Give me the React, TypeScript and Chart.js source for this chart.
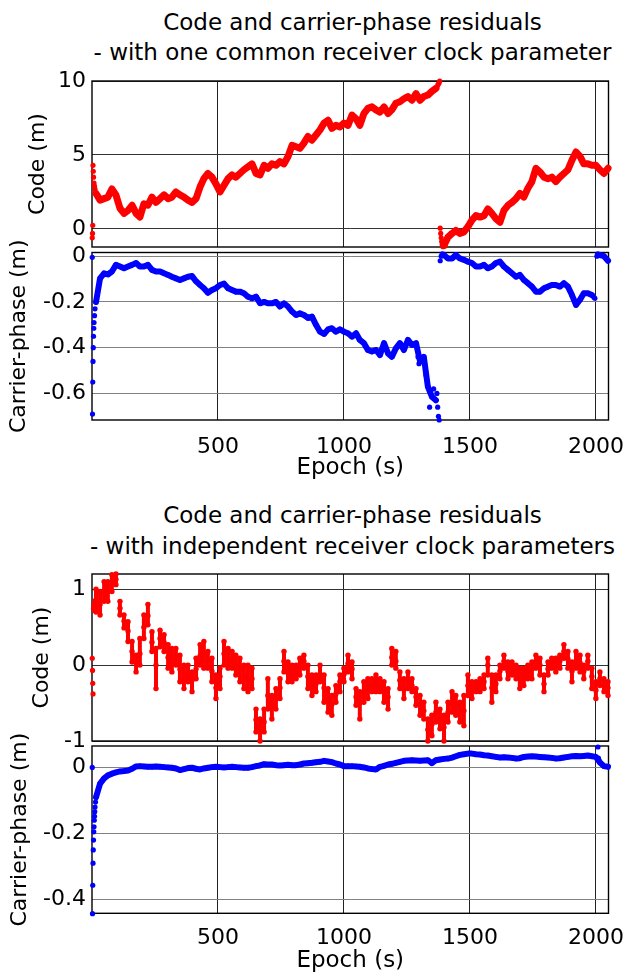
import { useEffect, useRef } from "react";
import { Chart, registerables } from "chart.js";

Chart.register(...registerables);

const FONT = "'DejaVu Sans', 'Liberation Sans', sans-serif";
const RED = "#ff0000";
const BLUE = "#0000ff";

// Epochs (s) at which the residual tracks are sampled
const EPOCH_GRID = [
  16, 32, 48, 63, 79, 95, 111, 127, 143, 159,
  175, 190, 206, 222, 238, 254, 270, 286, 302, 317,
  333, 349, 365, 381, 397, 413, 429, 444, 460, 476,
  492, 508, 524, 540, 556, 571, 587, 603, 619, 635,
  651, 667, 683, 698, 714, 730, 746, 762, 778, 794,
  810, 825, 841, 857, 873, 889, 905, 921, 937, 952,
  968, 984, 1000, 1016, 1032, 1048, 1063, 1079, 1095, 1111,
  1127, 1143, 1159, 1175, 1190, 1206, 1222, 1238, 1254, 1270,
  1286, 1302, 1317, 1333, 1349, 1365, 1381, 1397, 1413, 1429,
  1444, 1460, 1476, 1492, 1508, 1524, 1540, 1556, 1571, 1587,
  1603, 1619, 1635, 1651, 1667, 1683, 1698, 1714, 1730, 1746,
  1762, 1778, 1794, 1810, 1825, 1841, 1857, 1873, 1889, 1905,
  1921, 1937, 1952, 1968, 1984, 2000, 2016, 2032, 2048,
];

// --- One common receiver clock parameter ---
// Code residuals (m)
const codeCommon = [
  2.4, 1.95, 2.05, 2.15, 2.7, 2.3, 1.4, 1.05, 1.25, 1.6,
  1.05, 0.8, 1.7, 1.6, 2.15, 1.8, 2.05, 2.3, 2.05, 2.15,
  2.5, 2.3, 2.15, 1.95, 1.8, 2.05, 2.85, 3.4, 3.75, 3.5,
  3.05, 2.5, 2.95, 3.4, 3.65, 3.5, 3.75, 4.0, 4.2, 4.4,
  3.75, 3.65, 4.3, 4.1, 4.4, 4.3, 4.55, 4.4, 4.9, 5.65,
  5.55, 5.45, 5.8, 6.25, 6.0, 6.35, 6.7, 7.15, 7.35, 6.8,
  7.0, 6.9, 7.15, 7.0, 7.7, 7.45, 7.0, 7.8, 8.15, 8.25,
  8.05, 7.9, 8.25, 7.8, 8.05, 8.5, 8.6, 8.8, 8.95, 8.7,
  9.15, 8.7, 8.95, 9.05, 9.3, 9.5, null, -1.1, -0.55, -0.3,
  -0.1, -0.3, -0.2, 0.15, 0.6, 0.9, 0.8, 0.9, 1.35, 1.05,
  0.7, 0.45, 1.25, 1.6, 1.8, 2.05, 2.4, 2.15, 2.75, 3.2,
  4.1, 3.85, 3.5, 3.4, 3.5, 3.2, 3.5, 3.75, 4.0, 4.65,
  5.2, 4.9, 4.4, 4.4, 4.3, 4.3, 4.0, 3.75, 4.1,
];
const codeCommonEdgeEpochs = [1, 2, 3, 4, 5, 6, 8, 10, 12, 1369, 1373, 1377, 1380, 1382, 1384, 1386, 1388, 1390, 1393, 1401, 1405];
const codeCommonEdgeValues = [-0.6, -0.3, 0.25, 4.3, 3.9, 3.5, 3.1, 2.9, 2.7, 9.6, 9.75, 9.85, 10.0, 0.05, -0.3, -0.6, -0.85, -1.05, -1.2, -1.15, -0.85];

// Carrier-phase residuals (m)
const phaseCommon = [
  -0.2, -0.097, -0.075, -0.08, -0.067, -0.038, -0.045, -0.053, -0.045, -0.038,
  -0.03, -0.045, -0.045, -0.038, -0.06, -0.067, -0.067, -0.075, -0.082, -0.09,
  -0.097, -0.104, -0.097, -0.09, -0.087, -0.11, -0.126, -0.14, -0.16, -0.148,
  -0.14, -0.126, -0.12, -0.14, -0.148, -0.155, -0.155, -0.162, -0.177, -0.184,
  -0.177, -0.206, -0.2, -0.206, -0.206, -0.2, -0.22, -0.206, -0.22, -0.242,
  -0.257, -0.25, -0.257, -0.27, -0.264, -0.3, -0.33, -0.34, -0.32, -0.315,
  -0.33, -0.32, -0.33, -0.337, -0.352, -0.337, -0.366, -0.38, -0.41, -0.417,
  -0.41, -0.432, -0.38, -0.425, -0.44, -0.403, -0.38, -0.41, -0.366, -0.388,
  -0.38, -0.46, -0.44, -0.57, -0.614, -0.63, null, 0.005, -0.01, -0.01,
  0.005, -0.01, -0.016, -0.024, -0.03, -0.045, -0.045, -0.038, -0.053, -0.045,
  -0.03, -0.024, -0.045, -0.06, -0.075, -0.09, -0.082, -0.104, -0.118, -0.133,
  -0.155, -0.155, -0.14, -0.133, -0.126, -0.126, -0.133, -0.118, -0.133, -0.17,
  -0.213, -0.19, -0.162, -0.162, -0.17, null, 0.005, 0.0, -0.02,
];
const phaseCommonEdgeEpochs = [1, 2, 3, 4, 5, 6, 7, 8, 10, 12, 1294, 1298, 1326, 1340, 1356, 1369, 1372, 1375, 1378, 1382, 1386, 1390, 1992, 1996, 2004, 2008];
const phaseCommonEdgeValues = [-0.005, -0.69, -0.55, -0.46, -0.4, -0.35, -0.315, -0.29, -0.26, -0.23, -0.44, -0.47, -0.52, -0.66, -0.58, -0.6, -0.66, -0.7, -0.716, -0.02, 0.0, 0.01, -0.18, -0.184, 0.0, 0.01];

// --- Independent receiver clock parameters ---
// Code residuals (m): upper, central and lower edge of the scatter at each epoch
const codeIndepHigh = [
  1.0, 0.97, 1.1, 1.1, 1.19, 1.2, 0.84, 0.66, 0.57, 0.31,
  0.13, 0.35, 0.66, 0.8, 0.44, 0.22, 0.46, 0.4, 0.27, 0.22,
  0.22, 0.13, 0.0, 0.0, -0.09, 0.09, 0.27, 0.31, 0.18, 0.09,
  -0.13, -0.04, 0.31, 0.22, 0.18, 0.13, 0.09, 0.0, 0.0, -0.04,
  -0.58, -0.71, -0.58, -0.18, -0.4, -0.31, -0.18, 0.18, 0.04, 0.0,
  0.0, 0.09, 0.13, 0.0, -0.13, -0.13, 0.0, -0.13, -0.31, -0.4,
  -0.27, -0.13, -0.04, 0.13, 0.04, -0.31, -0.35, -0.22, -0.18, -0.18,
  -0.13, -0.18, -0.22, -0.31, 0.22, 0.18, -0.09, -0.18, -0.09, -0.18,
  -0.31, -0.4, -0.49, -0.71, -0.66, -0.49, -0.58, -0.66, -0.49, -0.35,
  -0.4, -0.49, -0.4, -0.13, -0.22, -0.22, -0.18, -0.13, 0.09, -0.13,
  -0.13, 0.0, 0.13, 0.04, 0.04, 0.0, -0.04, -0.04, 0.0, 0.04,
  0.13, 0.09, -0.13, 0.04, 0.09, 0.09, 0.13, 0.27, 0.18, 0.04,
  0.18, 0.13, 0.0, 0.13, -0.04, -0.22, -0.09, -0.18, -0.22,
];
const codeIndepMid = [
  0.82, 0.8, 0.95, 0.97, 1.07, 1.13, 0.75, 0.58, 0.45, 0.18,
  0.03, 0.15, 0.5, 0.65, 0.3, 0.0, 0.35, 0.3, 0.1, 0.05,
  0.12, -0.05, -0.18, -0.12, -0.2, -0.05, 0.12, 0.12, 0.05, -0.08,
  -0.3, -0.15, 0.15, 0.08, 0.05, 0.0, -0.05, -0.15, -0.2, -0.18,
  -0.72, -0.82, -0.75, -0.4, -0.55, -0.45, -0.3, 0.05, -0.1, -0.1,
  -0.08, -0.03, 0.05, -0.15, -0.28, -0.25, -0.12, -0.3, -0.45, -0.52,
  -0.38, -0.22, -0.12, 0.02, -0.05, -0.42, -0.5, -0.35, -0.3, -0.25,
  -0.22, -0.27, -0.35, -0.42, 0.1, 0.05, -0.2, -0.32, -0.22, -0.27,
  -0.42, -0.52, -0.6, -0.85, -0.78, -0.62, -0.7, -0.82, -0.62, -0.5,
  -0.52, -0.6, -0.6, -0.27, -0.3, -0.3, -0.27, -0.22, 0.0, -0.3,
  -0.25, -0.08, 0.05, -0.08, -0.03, -0.08, -0.15, -0.18, -0.08, -0.05,
  0.05, 0.0, -0.25, -0.05, 0.03, 0.0, 0.05, 0.18, 0.08, -0.08,
  0.05, 0.03, -0.08, 0.05, -0.15, -0.33, -0.18, -0.27, -0.3,
];
const codeIndepLow = [
  0.7, 0.66, 0.84, 0.84, 0.97, 1.06, 0.66, 0.49, 0.31, 0.04,
  -0.09, 0.0, 0.35, 0.53, 0.18, -0.31, 0.24, 0.18, -0.04, -0.09,
  0.0, -0.22, -0.31, -0.22, -0.35, -0.18, 0.0, -0.04, -0.04, -0.22,
  -0.44, -0.31, 0.0, -0.04, -0.04, -0.13, -0.22, -0.31, -0.35, -0.31,
  -0.88, -1.0, -0.88, -0.58, -0.71, -0.58, -0.44, -0.09, -0.22, -0.22,
  -0.18, -0.13, -0.04, -0.31, -0.4, -0.35, -0.22, -0.49, -0.62, -0.66,
  -0.49, -0.35, -0.22, -0.09, -0.18, -0.53, -0.71, -0.49, -0.44, -0.35,
  -0.35, -0.35, -0.49, -0.58, 0.0, -0.04, -0.31, -0.44, -0.31, -0.35,
  -0.53, -0.66, -0.71, -1.0, -0.93, -0.75, -0.84, -1.0, -0.75, -0.62,
  -0.66, -0.75, -0.8, -0.4, -0.44, -0.35, -0.35, -0.31, -0.13, -0.49,
  -0.35, -0.18, -0.04, -0.18, -0.13, -0.18, -0.31, -0.27, -0.18, -0.18,
  -0.04, -0.13, -0.35, -0.13, -0.04, -0.09, -0.04, 0.09, -0.04, -0.22,
  -0.04, -0.09, -0.18, -0.04, -0.31, -0.44, -0.27, -0.35, -0.4,
];
const codeIndepEdgeEpochs = [1, 2, 3, 4, 6, 8, 10, 12];
const codeIndepEdgeValues = [0.09, -0.07, -0.24, -0.38, 0.75, 0.8, 0.72, 0.85];

// Carrier-phase residuals (m)
const phaseIndep = [
  -0.09, -0.049, -0.033, -0.024, -0.019, -0.015, -0.012, -0.011, -0.009, -0.004,
  0.003, 0.004, 0.003, 0.002, 0.002, 0.003, 0.002, 0.001, 0.0, -0.001,
  -0.003, -0.008, -0.005, -0.002, -0.001, -0.004, -0.006, -0.003, -0.001, 0.001,
  0.002, 0.001, 0.0, 0.001, 0.002, 0.001, 0.0, -0.001, -0.001, 0.001,
  0.004, 0.006, 0.01, 0.009, 0.009, 0.007, 0.006, 0.007, 0.008, 0.007,
  0.007, 0.009, 0.012, 0.013, 0.014, 0.016, 0.017, 0.02, 0.018, 0.016,
  0.012, 0.009, 0.004, 0.004, 0.004, 0.003, 0.002, 0.0, -0.003, -0.005,
  -0.006, 0.002, 0.005, 0.009, 0.011, 0.014, 0.017, 0.02, 0.021, 0.022,
  0.021, 0.02, 0.021, 0.022, 0.013, 0.022, 0.024, 0.026, 0.027, 0.03,
  0.034, 0.038, 0.04, 0.042, 0.042, 0.04, 0.039, 0.037, 0.036, 0.034,
  0.032, 0.03, 0.031, 0.03, 0.029, 0.027, 0.028, 0.032, 0.033, 0.034,
  0.033, 0.032, 0.031, 0.03, 0.029, 0.027, 0.028, 0.03, 0.032, 0.034,
  0.035, 0.034, 0.035, 0.036, 0.034, 0.032, 0.015, 0.004, 0.002,
];
const phaseIndepEdgeEpochs = [1, 2, 3, 4, 5, 6, 7, 8, 9, 10, 11, 12, 14, 2008, 2010, 2012];
const phaseIndepEdgeValues = [0, -0.443, -0.357, -0.29, -0.25, -0.22, -0.195, -0.18, -0.16, -0.148, -0.134, -0.12, -0.105, 0.062, 0.028, 0.022];

// Axis ticks
const EPOCH_TICKS = [500, 1000, 1500, 2000];
const CODE_COMMON_TICKS = [0, 5, 10];
const PHASE_COMMON_TICKS = [-0.6, -0.4, -0.2, 0];
const CODE_INDEP_TICKS = [-1, 0, 1];
const PHASE_INDEP_TICKS = [-0.4, -0.2, 0];

type Pt = { x: number; y: number | null };
const onGrid = (values: (number | null)[]): Pt[] => EPOCH_GRID.map((x, i) => ({ x, y: values[i] }));
const pairs = (xs: number[], ys: number[]): Pt[] => xs.map((x, i) => ({ x, y: ys[i] }));

// One vertical streak per epoch (high -> mid -> low), streaks kept apart by a gap
const columns = (hi: number[], mid: number[], lo: number[]): Pt[] =>
  EPOCH_GRID.flatMap((x, i) => [
    { x, y: hi[i] },
    { x, y: mid[i] },
    { x, y: lo[i] },
    { x, y: null },
  ]);

const track = (data: Pt[], color: string, width: number, radius = 2.6) => ({
  data,
  showLine: true,
  spanGaps: false,
  borderColor: color,
  backgroundColor: color,
  borderWidth: width,
  borderJoinStyle: "round",
  borderCapStyle: "round",
  pointRadius: radius,
  pointBorderWidth: 0,
  pointBackgroundColor: color,
  clip: 4,
});

const dots = (data: Pt[], color: string) => ({
  data,
  showLine: false,
  borderColor: color,
  backgroundColor: color,
  pointRadius: 2.6,
  pointBorderWidth: 0,
  pointBackgroundColor: color,
  clip: 4,
});

// Box around the plotting area
const frame = {
  id: "frame",
  beforeDatasetsDraw(chart: any) {
    const { ctx, chartArea } = chart;
    const { left, top, right, bottom } = chartArea;
    ctx.save();
    ctx.strokeStyle = "#000";
    ctx.lineWidth = 1.4;
    ctx.strokeRect(left, top, right - left, bottom - top);
    ctx.restore();
  },
};

interface PanelSpec {
  top: number;
  height: number;
  padTop: number;
  padBottom: number;
  xAxisHeight: number;
  showEpoch: boolean;
  epochTickPad: number;
  epochTitlePad: number;
  yTitle: string;
  yTitlePad: number;
  yMin: number;
  yMax: number;
  yTicks: number[];
  yGrid: string;
  datasets: any[];
}

const PANELS: PanelSpec[] = [
  {
    top: 62, height: 198, padTop: 19, padBottom: 13, xAxisHeight: 0,
    showEpoch: false, epochTickPad: 0, epochTitlePad: 0,
    yTitle: "Code (m)", yTitlePad: 25.3,
    yMin: -1.22, yMax: 10, yTicks: CODE_COMMON_TICKS, yGrid: "#333",
    datasets: [
      track(onGrid(codeCommon), RED, 7),
      dots(pairs(codeCommonEdgeEpochs, codeCommonEdgeValues), RED),
    ],
  },
  {
    top: 220, height: 268, padTop: 32.5, padBottom: 0, xAxisHeight: 68,
    showEpoch: true, epochTickPad: 14, epochTitlePad: 6.2,
    yTitle: "Carrier-phase (m)", yTitlePad: 5.8,
    yMin: -0.716, yMax: 0.016, yTicks: PHASE_COMMON_TICKS, yGrid: "#808080",
    datasets: [
      track(onGrid(phaseCommon), BLUE, 6),
      dots(pairs(phaseCommonEdgeEpochs, phaseCommonEdgeValues), BLUE),
    ],
  },
  {
    top: 565, height: 192, padTop: 9, padBottom: 16, xAxisHeight: 0,
    showEpoch: false, epochTickPad: 0, epochTitlePad: 0,
    yTitle: "Code (m)", yTitlePad: 28.8,
    yMin: -1.0, yMax: 1.2, yTicks: CODE_INDEP_TICKS, yGrid: "#333",
    datasets: [
      track(columns(codeIndepHigh, codeIndepMid, codeIndepLow), RED, 4, 2.7),
      dots(pairs(codeIndepEdgeEpochs, codeIndepEdgeValues), RED),
    ],
  },
  {
    top: 715, height: 262, padTop: 31, padBottom: 0, xAxisHeight: 63.7,
    showEpoch: true, epochTickPad: 11.5, epochTitlePad: 2.2,
    yTitle: "Carrier-phase (m)", yTitlePad: 6.8,
    yMin: -0.442, yMax: 0.065, yTicks: PHASE_INDEP_TICKS, yGrid: "#808080",
    datasets: [
      track(onGrid(phaseIndep), BLUE, 6),
      dots(pairs(phaseIndepEdgeEpochs, phaseIndepEdgeValues), BLUE),
    ],
  },
];

function Panel({ spec }: { spec: PanelSpec }) {
  const ref = useRef<HTMLCanvasElement>(null);
  useEffect(() => {
    if (!ref.current) return;
    const chart = new Chart(ref.current, {
      type: "scatter",
      data: { datasets: spec.datasets },
      plugins: [frame],
      options: {
        responsive: false,
        animation: false,
        events: [],
        layout: {
          autoPadding: false,
          padding: { top: spec.padTop, bottom: spec.padBottom, left: 0, right: 18.5 },
        },
        plugins: { legend: { display: false }, tooltip: { enabled: false }, title: { display: false } },
        scales: {
          x: {
            type: "linear",
            min: 0,
            max: 2050,
            afterBuildTicks: (s: any) => {
              s.ticks = EPOCH_TICKS.map((value) => ({ value }));
            },
            afterFit: (s: any) => {
              s.height = spec.xAxisHeight;
              s.paddingLeft = 0;
              s.paddingRight = 0;
            },
            border: { display: false },
            grid: { color: "#222", lineWidth: 1, drawTicks: false },
            ticks: {
              display: spec.showEpoch,
              color: "#000",
              font: { family: FONT, size: 22 },
              padding: spec.epochTickPad,
              maxRotation: 0,
              autoSkip: false,
              callback: (v: any) => String(v),
            },
            title: {
              display: spec.showEpoch,
              text: "Epoch (s)",
              color: "#000",
              font: { family: FONT, size: 23 },
              padding: { top: 0, bottom: spec.epochTitlePad },
            },
          },
          y: {
            type: "linear",
            min: spec.yMin,
            max: spec.yMax,
            afterBuildTicks: (s: any) => {
              s.ticks = spec.yTicks.map((value) => ({ value }));
            },
            afterFit: (s: any) => {
              s.width = 92;
              s.paddingTop = 0;
              s.paddingBottom = 0;
            },
            border: { display: false },
            grid: { color: spec.yGrid, lineWidth: 1, drawTicks: false },
            ticks: {
              color: "#000",
              font: { family: FONT, size: 22 },
              padding: 6,
              autoSkip: false,
              callback: (v: any) => String(v),
            },
            title: {
              display: true,
              text: spec.yTitle,
              color: "#000",
              font: { family: FONT, size: 22 },
              padding: { top: spec.yTitlePad, bottom: 0 },
            },
          },
        },
      } as any,
    });
    return () => chart.destroy();
  }, [spec]);
  return (
    <canvas
      ref={ref}
      width={627}
      height={spec.height}
      style={{ position: "absolute", left: 0, top: spec.top, display: "block" }}
    />
  );
}

const TITLE_LINES = [
  { text: "Code and carrier-phase residuals", top: 8 },
  { text: "- with one common receiver clock parameter", top: 38 },
  { text: "Code and carrier-phase residuals", top: 501.3 },
  { text: "- with independent receiver clock parameters", top: 531.5 },
];

export default function App() {
  return (
    <div
      style={{
        position: "absolute",
        left: 0,
        top: 0,
        width: 627,
        height: 977,
        background: "#fff",
        overflow: "hidden",
      }}
    >
      {TITLE_LINES.map((line, i) => (
        <div
          key={i}
          style={{
            position: "absolute",
            left: 0,
            width: 705,
            top: line.top,
            textAlign: "center",
            fontFamily: FONT,
            fontSize: 23,
            lineHeight: "28px",
            color: "#000",
            whiteSpace: "nowrap",
          }}
        >
          {line.text}
        </div>
      ))}
      {PANELS.map((spec, i) => (
        <Panel key={i} spec={spec} />
      ))}
    </div>
  );
}
